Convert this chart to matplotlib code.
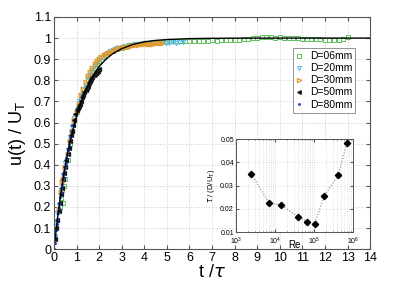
import matplotlib
matplotlib.use("Agg")
import matplotlib.pyplot as plt
from matplotlib.ticker import LogLocator, NullFormatter

plt.rcParams['font.family'] = ['Liberation Sans', 'DejaVu Sans']

# model curve
t_fit = [0, 0.1, 0.2, 0.3, 0.4, 0.5, 0.6, 0.7, 0.8, 0.9, 1.0, 1.2, 1.4, 1.6, 1.8, 2.0,
         2.3, 2.6, 3.0, 3.5, 4.0, 4.5, 5.0, 6.0, 7.0, 8.0, 10.0, 14.0]
u_fit = [0, 0.095, 0.181, 0.259, 0.330, 0.393, 0.451, 0.503, 0.551, 0.593, 0.632, 0.699,
         0.753, 0.798, 0.835, 0.865, 0.900, 0.926, 0.950, 0.970, 0.982, 0.989, 0.993,
         0.9975, 0.999, 0.9997, 1.0, 1.0]

# D = 06 mm
t_06 = [0.25, 0.3, 0.35, 0.4, 0.45, 0.5, 0.6, 0.7, 0.8, 0.9, 1.0, 1.1, 1.2, 1.3, 1.4,
        1.5, 1.6, 1.7, 1.8, 1.9, 2.0, 2.2, 2.4, 2.6, 2.8, 3.0, 3.2, 3.4, 3.6, 3.8,
        4.0, 4.2, 4.4, 4.6, 4.8,
        5.0, 5.2, 5.4, 5.6, 5.8, 6.0, 6.2, 6.4, 6.6, 6.8, 7.0, 7.2, 7.4, 7.6, 7.8,
        8.0, 8.2, 8.4, 8.6, 8.8, 9.0, 9.2, 9.4, 9.6, 9.8, 10.0, 10.2, 10.4, 10.6,
        10.8, 11.0, 11.2, 11.4, 11.6, 11.8, 12.0, 12.2, 12.4, 12.6, 12.8, 13.0]
u_06 = [0.20, 0.24, 0.28, 0.22, 0.30, 0.33, 0.42, 0.50, 0.56, 0.61, 0.65, 0.68, 0.71,
        0.74, 0.77, 0.80, 0.82, 0.84, 0.86, 0.875, 0.89, 0.91, 0.93, 0.94, 0.95, 0.955,
        0.96, 0.965, 0.970, 0.974, 0.977, 0.979, 0.980, 0.982, 0.983,
        0.984, 0.986, 0.985, 0.987, 0.986, 0.988, 0.987, 0.986, 0.988, 0.987, 0.989,
        0.988, 0.990, 0.991, 0.990, 0.992, 0.993, 0.995, 0.997, 0.999, 1.002, 1.004,
        1.003, 1.005, 1.002, 1.004, 1.002, 1.001, 1.000, 0.999, 0.998, 0.997, 0.995,
        0.996, 0.994, 0.993, 0.992, 0.991, 0.993, 0.994, 1.005]

# D = 20 mm
t_20 = [0.05, 0.1, 0.15, 0.2, 0.3, 0.4, 0.5, 0.6, 0.7, 0.8, 0.9, 1.0, 1.1, 1.2, 1.3,
        1.4, 1.5, 1.6, 1.7, 1.8, 1.9, 2.0, 2.1, 2.2, 2.3, 2.4, 2.5, 2.6, 2.7, 2.8,
        2.9, 3.0, 3.15, 3.3, 3.45, 3.6, 3.75, 3.9, 4.05, 4.2, 4.35, 4.5, 4.65, 4.8,
        4.95, 5.1, 5.25, 5.4, 5.55, 5.7]
u_20 = [0.06, 0.12, 0.17, 0.21, 0.28, 0.35, 0.41, 0.47, 0.53, 0.58, 0.62, 0.66, 0.70,
        0.73, 0.76, 0.78, 0.81, 0.83, 0.85, 0.87, 0.88, 0.895, 0.905, 0.915, 0.925,
        0.93, 0.937, 0.943, 0.948, 0.952, 0.955, 0.958, 0.962, 0.966, 0.968, 0.970,
        0.972, 0.974, 0.975, 0.976, 0.976, 0.977, 0.978, 0.977, 0.979, 0.978, 0.980,
        0.979, 0.981, 0.980]

# D = 30 mm
t_30 = [0.05, 0.1, 0.2, 0.3, 0.35, 0.4, 0.5, 0.6, 0.7, 0.8, 0.9, 1.0, 1.1, 1.2, 1.3,
        1.4, 1.5, 1.6, 1.7, 1.8, 1.9, 2.0, 2.1, 2.2, 2.3, 2.4, 2.5, 2.6, 2.7, 2.8,
        2.9, 3.0, 3.1, 3.2, 3.3, 3.4, 3.5, 3.6, 3.7, 3.8, 3.9, 4.0, 4.1, 4.2, 4.3,
        4.4, 4.5, 4.6, 4.7, 4.8]
u_30 = [0.05, 0.10, 0.19, 0.27, 0.32, 0.33, 0.39, 0.45, 0.51, 0.56, 0.61, 0.65, 0.69,
        0.73, 0.76, 0.79, 0.82, 0.84, 0.86, 0.875, 0.89, 0.90, 0.91, 0.92, 0.925,
        0.93, 0.935, 0.94, 0.945, 0.948, 0.952, 0.955, 0.958, 0.960, 0.962, 0.964,
        0.966, 0.967, 0.968, 0.970, 0.970, 0.972, 0.972, 0.973, 0.974, 0.974, 0.975,
        0.975, 0.976, 0.976]

# D = 50 mm
t_50 = [0.05, 0.1, 0.15, 0.2, 0.25, 0.3, 0.35, 0.4, 0.45, 0.5, 0.55, 0.6, 0.65, 0.7,
        0.75, 0.8, 0.85, 0.9, 0.95, 1.0, 1.05, 1.1, 1.15, 1.2, 1.25, 1.3, 1.35, 1.4,
        1.45, 1.5, 1.55, 1.6, 1.65, 1.7, 1.75, 1.8, 1.85, 1.9, 1.95, 2.0]
u_50 = [0.05, 0.10, 0.14, 0.18, 0.22, 0.26, 0.29, 0.33, 0.36, 0.39, 0.42, 0.45, 0.48,
        0.51, 0.54, 0.56, 0.59, 0.61, 0.64, 0.66, 0.67, 0.68, 0.69, 0.70, 0.72, 0.73,
        0.745, 0.755, 0.765, 0.775, 0.785, 0.795, 0.805, 0.815, 0.825, 0.83, 0.835,
        0.84, 0.845, 0.855]

# D = 80 mm
t_80 = [0.0, 0.03, 0.06, 0.09, 0.12, 0.15, 0.18, 0.21, 0.24, 0.27, 0.3, 0.33, 0.36,
        0.39, 0.42, 0.45, 0.48, 0.51, 0.54, 0.57, 0.6, 0.65, 0.7, 0.75, 0.8]
u_80 = [0.0, 0.03, 0.06, 0.09, 0.12, 0.145, 0.17, 0.195, 0.22, 0.245, 0.27, 0.29,
        0.31, 0.33, 0.35, 0.37, 0.39, 0.41, 0.43, 0.45, 0.47, 0.50, 0.53, 0.56, 0.59]

# inset: tau / (D/U_T) vs Re
re = [2470, 6980, 14200, 39300, 68000, 104700, 181600, 422000, 690000]
tau = [0.0350, 0.0227, 0.0217, 0.0166, 0.0145, 0.0136, 0.0255, 0.0345, 0.0483]

fig = plt.figure(figsize=(4.09, 2.88), dpi=100)
ax = fig.add_axes([0.132, 0.135, 0.773, 0.806])

ax.plot(t_06, u_06, 's', mfc='none', mec='#5cc05c', ms=3.2, mew=0.7, label='D=06mm')
ax.plot(t_20, u_20, 'v', mfc='none', mec='#4fb8ec', ms=3.2, mew=0.7, label='D=20mm')
ax.plot(t_30, u_30, '>', mfc='none', mec='#e39a2b', ms=3.4, mew=0.9, label='D=30mm')
ax.plot(t_50, u_50, '<', color='#1a1a1a', ms=2.8, label='D=50mm')
ax.plot(t_80, u_80, '.', color='#2a4fd8', ms=2.6, label='D=80mm')
ax.plot(t_fit, u_fit, '-', color='black', lw=1.0)

ax.set_xlim(0, 14)
ax.set_ylim(0, 1.1)
ax.set_xticks(range(0, 15))
ax.set_yticks([0, 0.1, 0.2, 0.3, 0.4, 0.5, 0.6, 0.7, 0.8, 0.9, 1.0, 1.1])
ax.set_yticklabels(['0', '0.1', '0.2', '0.3', '0.4', '0.5', '0.6', '0.7', '0.8',
                    '0.9', '1', '1.1'])
ax.tick_params(direction='in', top=True, right=True, labelsize=9, length=3,
               color='#555555', pad=2)
ax.grid(True, ls=':', color='#cccccc', lw=0.7)
for s in ax.spines.values():
    s.set_color('#555555')
    s.set_linewidth(0.8)
ax.set_xlabel(r't /$\tau$', fontsize=13, labelpad=0)
ax.set_ylabel(r'u(t) / U$_\mathrm{T}$', fontsize=13, labelpad=4)

leg = ax.legend(loc='upper right', bbox_to_anchor=(0.953, 0.866), fontsize=7.5,
                frameon=True, fancybox=False, handlelength=0.6, handletextpad=0.7,
                borderpad=0.3, labelspacing=0.2, borderaxespad=0, markerscale=0.9)
leg.get_frame().set_edgecolor('#777777')
leg.get_frame().set_linewidth(0.7)

ins = fig.add_axes([0.577, 0.194, 0.286, 0.323])
ins.plot(re, tau, ':', color='#888888', lw=0.8)
ins.plot(re, tau, 'D', color='black', ms=3.2, ls='none')
ins.set_xscale('log')
ins.set_xlim(1e3, 1e6)
ins.set_ylim(0.01, 0.05)
ins.set_yticks([0.01, 0.02, 0.03, 0.04, 0.05])
ins.xaxis.set_minor_locator(LogLocator(base=10, subs=range(2, 10)))
ins.xaxis.set_minor_formatter(NullFormatter())
ins.tick_params(which='both', direction='in', top=True, right=True, labelsize=5,
                length=2, color='#555555')
ins.tick_params(axis='x', pad=2.5)
ins.tick_params(axis='y', pad=1.5)
ins.tick_params(which='minor', length=1)
ins.grid(True, which='both', ls=':', color='#cccccc', lw=0.5)
for s in ins.spines.values():
    s.set_color('#555555')
    s.set_linewidth(0.7)
ins.set_xlabel('Re', fontsize=7, labelpad=-5)
ins.set_ylabel(r'$\tau$ / (D/U$_\mathrm{T}$)', fontsize=5.5, labelpad=2)

fig.savefig('out.png', dpi=100)
